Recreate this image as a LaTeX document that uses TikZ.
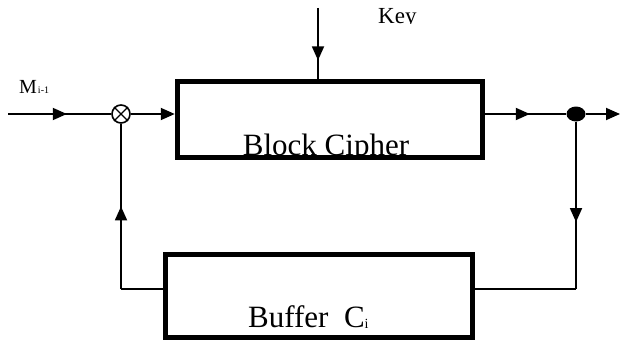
\documentclass[tikz,border=0pt]{standalone}
\usepackage{fontspec}
\setmainfont{Liberation Serif}
\usetikzlibrary{arrows.meta,decorations.markings,shapes.geometric}

\tikzset{
  wire/.style={line width=1.8pt},
  tipstyle/.style={-{Triangle[length=14pt,width=12pt]}},
  midtip/.style={postaction={decorate},decoration={markings,
      mark=at position #1 with {\arrow{Triangle[length=14pt,width=12pt]}}}},
  blockbox/.style={draw, line width=5.5pt, inner sep=0pt},
  mixer/.style={draw, circle, line width=1.6pt, minimum size=18pt, inner sep=0pt},
  junction/.style={fill, ellipse, minimum width=19pt, minimum height=15pt, inner sep=0pt},
  bigtext/.style={inner sep=0pt, font=\fontsize{31}{31}\selectfont},
  smalltext/.style={inner sep=0pt, font=\fontsize{23}{23}\selectfont},
}

\begin{document}
\begin{tikzpicture}[x=1pt, y=-1pt]
  \useasboundingbox (0,0) rectangle (620,342);

  % cipher block and its label (descenders hidden by the lower border)
  \node[blockbox, minimum width=305pt, minimum height=76pt] (blk) at (330,119.5) {};
  \begin{scope}
    \clip (180,84) rectangle (480,154);
    \node[bigtext, anchor=base] (blklbl) at (326,155) {Block Cipher};
  \end{scope}
  \node[blockbox, minimum width=305pt, minimum height=76pt] at (blk.center) {};

  % buffer block
  \node[blockbox, minimum width=307pt, minimum height=83pt] (buf) at (319,296) {};
  \node[bigtext, anchor=base west] (buflbl) at (248,327) {Buffer\ \ C\raisebox{-1pt}{\fontsize{14}{14}\selectfont i}};

  % mixer and junction
  \node[mixer] (mix) at (121,114) {};
  \draw[line width=1.4pt] (mix.north west) -- (mix.south east)
                          (mix.north east) -- (mix.south west);
  \node[junction] (dot) at (576,114) {};

  % free ends and corners
  \coordinate (in) at (8,114);
  \coordinate (keyin) at (318,8);
  \coordinate (out) at (620,114);
  \coordinate (cr) at (576,289);
  \coordinate (cl) at (121,289);

  % labels
  \node[anchor=base west, inner sep=0pt, font=\fontsize{20}{20}\selectfont] (mlbl) at (19,93)
    {M\hspace{1pt}\raisebox{0pt}{\fontsize{10}{10}\selectfont i-1}};
  \begin{scope}
    \clip (370,0) rectangle (430,23.5);
    \node[smalltext, anchor=base west] (keylbl) at (378,23.5) {Key};
  \end{scope}

  % connectors
  \draw[wire, midtip=0.57] (in) -- (mix);
  \draw[wire, tipstyle] (mix) -- (blk.west |- mix);
  \draw[wire, midtip=0.74] (keyin) -- (keyin |- blk.north);
  \draw[wire, midtip=0.55] (blk.east |- dot) -- (dot);
  \draw[wire, tipstyle] (dot) -- (out);
  \draw[wire, midtip=0.6] (dot) -- (cr);
  \draw[wire] (cr) -- (buf.east |- cr);
  \draw[wire] (buf.west |- cl) -- (cl);
  \draw[wire, midtip=0.5] (cl) -- (mix);
\end{tikzpicture}
\end{document}
